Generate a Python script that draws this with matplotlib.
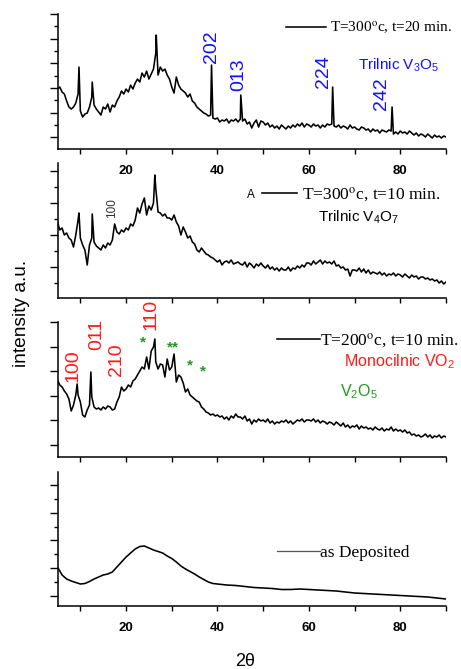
import numpy as np
import matplotlib
matplotlib.use("Agg")
import matplotlib.pyplot as plt
from matplotlib.lines import Line2D

plt.rcParams["font.family"] = ["Liberation Sans", "DejaVu Sans"]
plt.rcParams["mathtext.fontset"] = "custom"
plt.rcParams["mathtext.rm"] = "Liberation Sans"
plt.rcParams["mathtext.it"] = "Liberation Sans:italic"

# -------------------------
# Data (intensity in arbitrary units, scan every 0.5 deg from 5 to 90)
# -------------------------
theta_scan = np.linspace(5.0, 90.0, 171)

int_300_20 = [
    60, 62, 57, 55, 48, 42, 40, 42, 46, 55,
    38, 32, 35, 36, 42, 52, 44, 40, 37, 34,
    42, 40, 45, 37, 44, 42, 48, 52, 58, 55,
    60, 57, 64, 60, 66, 70, 67, 76, 72, 78,
    70, 75, 80, 96, 74, 82, 78, 80, 74, 70,
    62, 56, 72, 64, 60, 58, 56, 52, 55, 48,
    46, 42, 40, 38, 36, 35, 33, 34, 31, 30,
    31, 27, 29, 28, 30, 26, 29, 28, 30, 27,
    30, 28, 30, 25, 27, 21, 26, 29, 22, 28,
    27, 24, 26, 22, 24, 21, 23, 20, 24, 22,
    20, 23, 21, 24, 22, 25, 23, 26, 22, 25,
    24, 22, 25, 23, 24, 21, 24, 22, 25, 24,
    25, 23, 22, 24, 21, 23, 22, 20, 24, 21,
    22, 20, 19, 22, 21, 19, 20, 17, 20, 18,
    19, 16, 19, 18, 17, 19, 18, 15, 17, 15,
    18, 16, 17, 15, 18, 16, 14, 16, 13, 15,
    14, 12, 15, 13, 11, 14, 12, 13, 11, 13,
    12,
]
peak_theta_300_20 = [9.7, 12.6, 26.6, 38.7, 45.1, 65.2, 78.2]
peak_int_300_20 = [82, 67, 114, 84, 54, 62, 42]

int_300_10 = [
    76, 68, 70, 63, 65, 60, 58, 51, 63, 78,
    60, 53, 48, 33, 53, 60, 56, 52, 50, 48,
    53, 50, 55, 53, 58, 74, 66, 64, 68, 66,
    70, 68, 74, 72, 78, 90, 85, 94, 100, 83,
    92, 88, 95, 110, 86, 85, 82, 84, 80, 80,
    78, 83, 76, 72, 63, 71, 66, 60, 62, 56,
    54, 48, 46, 50, 47, 44, 43, 41, 40, 38,
    36, 38, 33, 36, 37, 35, 38, 34, 35, 36,
    34, 33, 36, 31, 35, 33, 30, 34, 32, 35,
    32, 30, 33, 29, 31, 28, 30, 27, 30, 28,
    28, 31, 27, 30, 29, 32, 30, 33, 31, 35,
    35, 33, 37, 34, 36, 38, 34, 37, 35, 36,
    34, 37, 32, 33, 30, 31, 28, 29, 22, 28,
    28, 27, 30, 26, 29, 25, 28, 24, 26, 25,
    24, 26, 23, 25, 22, 24, 23, 25, 22, 24,
    23, 21, 24, 22, 20, 23, 21, 22, 19, 21,
    21, 19, 20, 18, 19, 17, 18, 15, 17, 14,
    16,
]
peak_theta_300_10 = [9.7, 12.6, 26.3]
peak_int_300_10 = [85, 84, 123]

int_200_10 = [
    77, 72, 70, 66, 63, 58, 46, 52, 62, 62,
    55, 42, 40, 47, 52, 60, 50, 48, 49, 47,
    50, 48, 51, 50, 47, 48, 55, 60, 70, 66,
    68, 72, 70, 76, 78, 82, 86, 90, 88, 100,
    88, 106, 110, 95, 88, 93, 92, 80, 98, 87,
    90, 103, 75, 82, 80, 74, 65, 68, 62, 60,
    58, 56, 55, 50, 48, 45, 44, 42, 43, 41,
    42, 40, 41, 38, 40, 37, 41, 39, 43, 40,
    40, 38, 41, 36, 38, 33, 37, 35, 38, 36,
    37, 35, 38, 34, 36, 33, 35, 34, 36, 35,
    37, 34, 36, 33, 35, 37, 36, 38, 35, 37,
    37, 36, 38, 35, 37, 34, 36, 35, 33, 35,
    34, 32, 35, 33, 31, 34, 30, 32, 29, 31,
    30, 32, 28, 31, 29, 30, 28, 29, 27, 30,
    28, 27, 29, 26, 28, 27, 30, 26, 28, 26,
    27, 25, 27, 24, 25, 22, 23, 21, 22, 20,
    21, 23, 20, 22, 19, 21, 20, 22, 19, 21,
    20,
]
peak_theta_200_10 = [9.3, 12.3, 26.3]
peak_int_200_10 = [73, 85, 118]

theta_dep = [5, 6, 7, 8, 9, 10, 11, 12, 13, 14, 15, 16, 17, 18, 19, 20, 21, 22,
             23, 24, 25, 26, 27, 28, 29, 30, 31, 32, 33, 34, 35, 36, 37, 38, 39,
             40, 42, 44, 46, 48, 50, 52, 54, 56, 58, 60, 62, 64, 66, 68, 70, 72,
             74, 76, 78, 80, 82, 84, 86, 88, 90]
int_dep = [39, 31, 27, 25, 23.5, 22, 22.5, 24.5, 27, 29, 31, 32, 34, 39, 44, 49,
           53, 57, 59.5, 60, 58, 56, 54.5, 53, 50, 47.5, 44, 40, 37, 34.5, 32, 29,
           26.5, 24, 22.5, 22, 21, 20.5, 19.5, 18.5, 18, 17.5, 16.5, 16.5, 17,
           16.5, 16, 15.5, 15, 14, 13, 12.5, 12, 11.5, 11, 10.5, 10, 9.5, 9, 8, 7]

# reflection labels: (text, 2theta, intensity)
labels_v3o5 = [("202", 38.8, 86), ("013", 44.6, 58), ("224", 63.1, 61), ("242", 75.8, 39)]
labels_vo2 = [("100", 8.3, 75), ("011", 13.6, 107), ("210", 18.0, 81), ("110", 25.5, 127)]
stars_v2o5 = [("*", 23.6, 115), ("**", 30.3, 110), ("*", 34.0, 92), ("*", 36.8, 86)]

BLUE = "#1010ff"
RED = "#ff1a1a"
GREEN = "#1f9a1f"


def merge_scan(grid, values, peak_x, peak_y):
    x = np.concatenate([grid, np.asarray(peak_x, float)])
    y = np.concatenate([np.asarray(values, float), np.asarray(peak_y, float)])
    order = np.argsort(x)
    return x[order], y[order]


def style_axes(ax, ymax, major, minor, show_labels):
    ax.set_facecolor("none")
    ax.set_xlim(5, 90)
    ax.set_ylim(0, ymax)
    for s in ("top", "right"):
        ax.spines[s].set_visible(False)
    for s in ("left", "bottom"):
        ax.spines[s].set_linewidth(1.1)
    ax.set_xticks([20, 40, 60, 80])
    ax.set_xticks([10, 30, 50, 70, 90], minor=True)
    ax.set_yticks(major)
    ax.set_yticks(minor, minor=True)
    ax.set_yticklabels([])
    ax.tick_params(axis="x", which="both", direction="out", length=3.3, width=1.0,
                   pad=8.5, labelsize=9.5, labelbottom=show_labels)
    ax.tick_params(axis="y", which="major", direction="out", length=5.8, width=1.0)
    ax.tick_params(axis="y", which="minor", direction="out", length=2.9, width=1.0)
    for t in ax.get_xticklabels():
        t.set_fontweight("bold")


def add_legend(ax, fontsize, hl, pad, anchor):
    leg = ax.legend(loc="center right", bbox_to_anchor=anchor, frameon=False,
                    handlelength=hl, handletextpad=pad, borderpad=0, borderaxespad=0,
                    prop={"family": "Liberation Serif", "size": fontsize})
    for t in leg.get_texts():
        t.set_math_fontfamily("stix")
    return leg


def main() -> None:
    fig = plt.figure(figsize=(4.61, 6.69), dpi=100)
    left, width = 57.5 / 461, 388.5 / 461

    def add_ax(top_px, bottom_px):
        return fig.add_axes([left, 1 - bottom_px / 669, width, (bottom_px - top_px) / 669])

    ax1 = add_ax(14, 149)
    ax2 = add_ax(163, 298)
    ax3 = add_ax(322, 457)
    ax4 = add_ax(472, 606)
    ax1.set_zorder(5)

    # panel 1
    x, y = merge_scan(theta_scan, int_300_20, peak_theta_300_20, peak_int_300_20)
    ax1.plot(x, y, color="black", lw=1.15, label=r"T=300$^{\mathrm{o}}$c, t=20 min.")
    style_axes(ax1, 135, 11.6 + 24.7 * np.arange(6), 24.0 + 24.7 * np.arange(5), True)
    add_legend(ax1, 11, 2.6, 0.25, (1.015, 0.896))
    for txt, tx, ty in labels_v3o5:
        ax1.text(tx, ty, txt, color=BLUE, rotation=90, ha="center", va="bottom", fontsize=14)
    ax1.text(70.8, 84, r"Trilnic V$_3$O$_5$", color=BLUE, ha="left", va="center", fontsize=11)

    # panel 2
    x, y = merge_scan(theta_scan, int_300_10, peak_theta_300_10, peak_int_300_10)
    ax2.plot(x, y, color="black", lw=1.15, label=r"T=300$^{\mathrm{o}}$c, t=10 min.")
    style_axes(ax2, 135, [31, 63, 95, 127], [15, 47, 79, 111], False)
    add_legend(ax2, 12.5, 2.0, 0.3, (0.987, 0.763))
    ax2.text(17.0, 80, "100", color="#333333", rotation=90, ha="center", va="bottom", fontsize=8.5)
    ax2.text(47.4, 103, "A", color="black", ha="center", va="center", fontsize=8.5)
    ax2.text(70.8, 81, r"Trilnic V$_4$O$_7$", color="black", ha="center", va="center", fontsize=11)

    # panel 3
    x, y = merge_scan(theta_scan, int_200_10, peak_theta_200_10, peak_int_200_10)
    ax3.plot(x, y, color="black", lw=1.15, label=r"T=200$^{\mathrm{o}}$c, t=10 min.")
    style_axes(ax3, 135, 12 + 24.6 * np.arange(6), [], False)
    add_legend(ax3, 12.5, 2.5, 0.0, (1.033, 0.859))
    for txt, tx, ty in labels_vo2:
        ax3.text(tx, ty, txt, color=RED, rotation=90, ha="center", va="bottom", fontsize=14,
                 clip_on=False)
    for txt, sx, sy in stars_v2o5:
        ax3.text(sx, sy, txt, color=GREEN, ha="center", va="center", fontsize=11,
                 fontweight="bold")
    ax3.text(67.7, 95, r"Monocilnic VO$_2$", color=RED, ha="left", va="center", fontsize=11.5,
             clip_on=False)
    ax3.text(66.8, 65, r"V$_2$O$_5$", color=GREEN, ha="left", va="center", fontsize=11.5)

    # panel 4
    ax4.plot(theta_dep, int_dep, color="black", lw=1.15, label="as Deposited")
    style_axes(ax4, 134, 10 + 27.8 * np.arange(5), 23.9 + 27.8 * np.arange(4), True)
    add_legend(ax4, 12.5, 2.5, 0.0, (0.907, 0.396))
    leg4 = ax4.get_legend()
    for h in leg4.legend_handles:
        if isinstance(h, Line2D):
            h.set_color("#555555")
            h.set_linewidth(0.9)

    fig.text(22 / 461, 1 - 313 / 669, "intensity a.u.", rotation=90, ha="center", va="center",
             fontsize=13.8)
    fig.text(245 / 461, 1 - 662 / 669, "2\u03b8", ha="center", va="center", fontsize=13)

    fig.savefig("out.png", dpi=100)
    plt.close(fig)


if __name__ == "__main__":
    main()
